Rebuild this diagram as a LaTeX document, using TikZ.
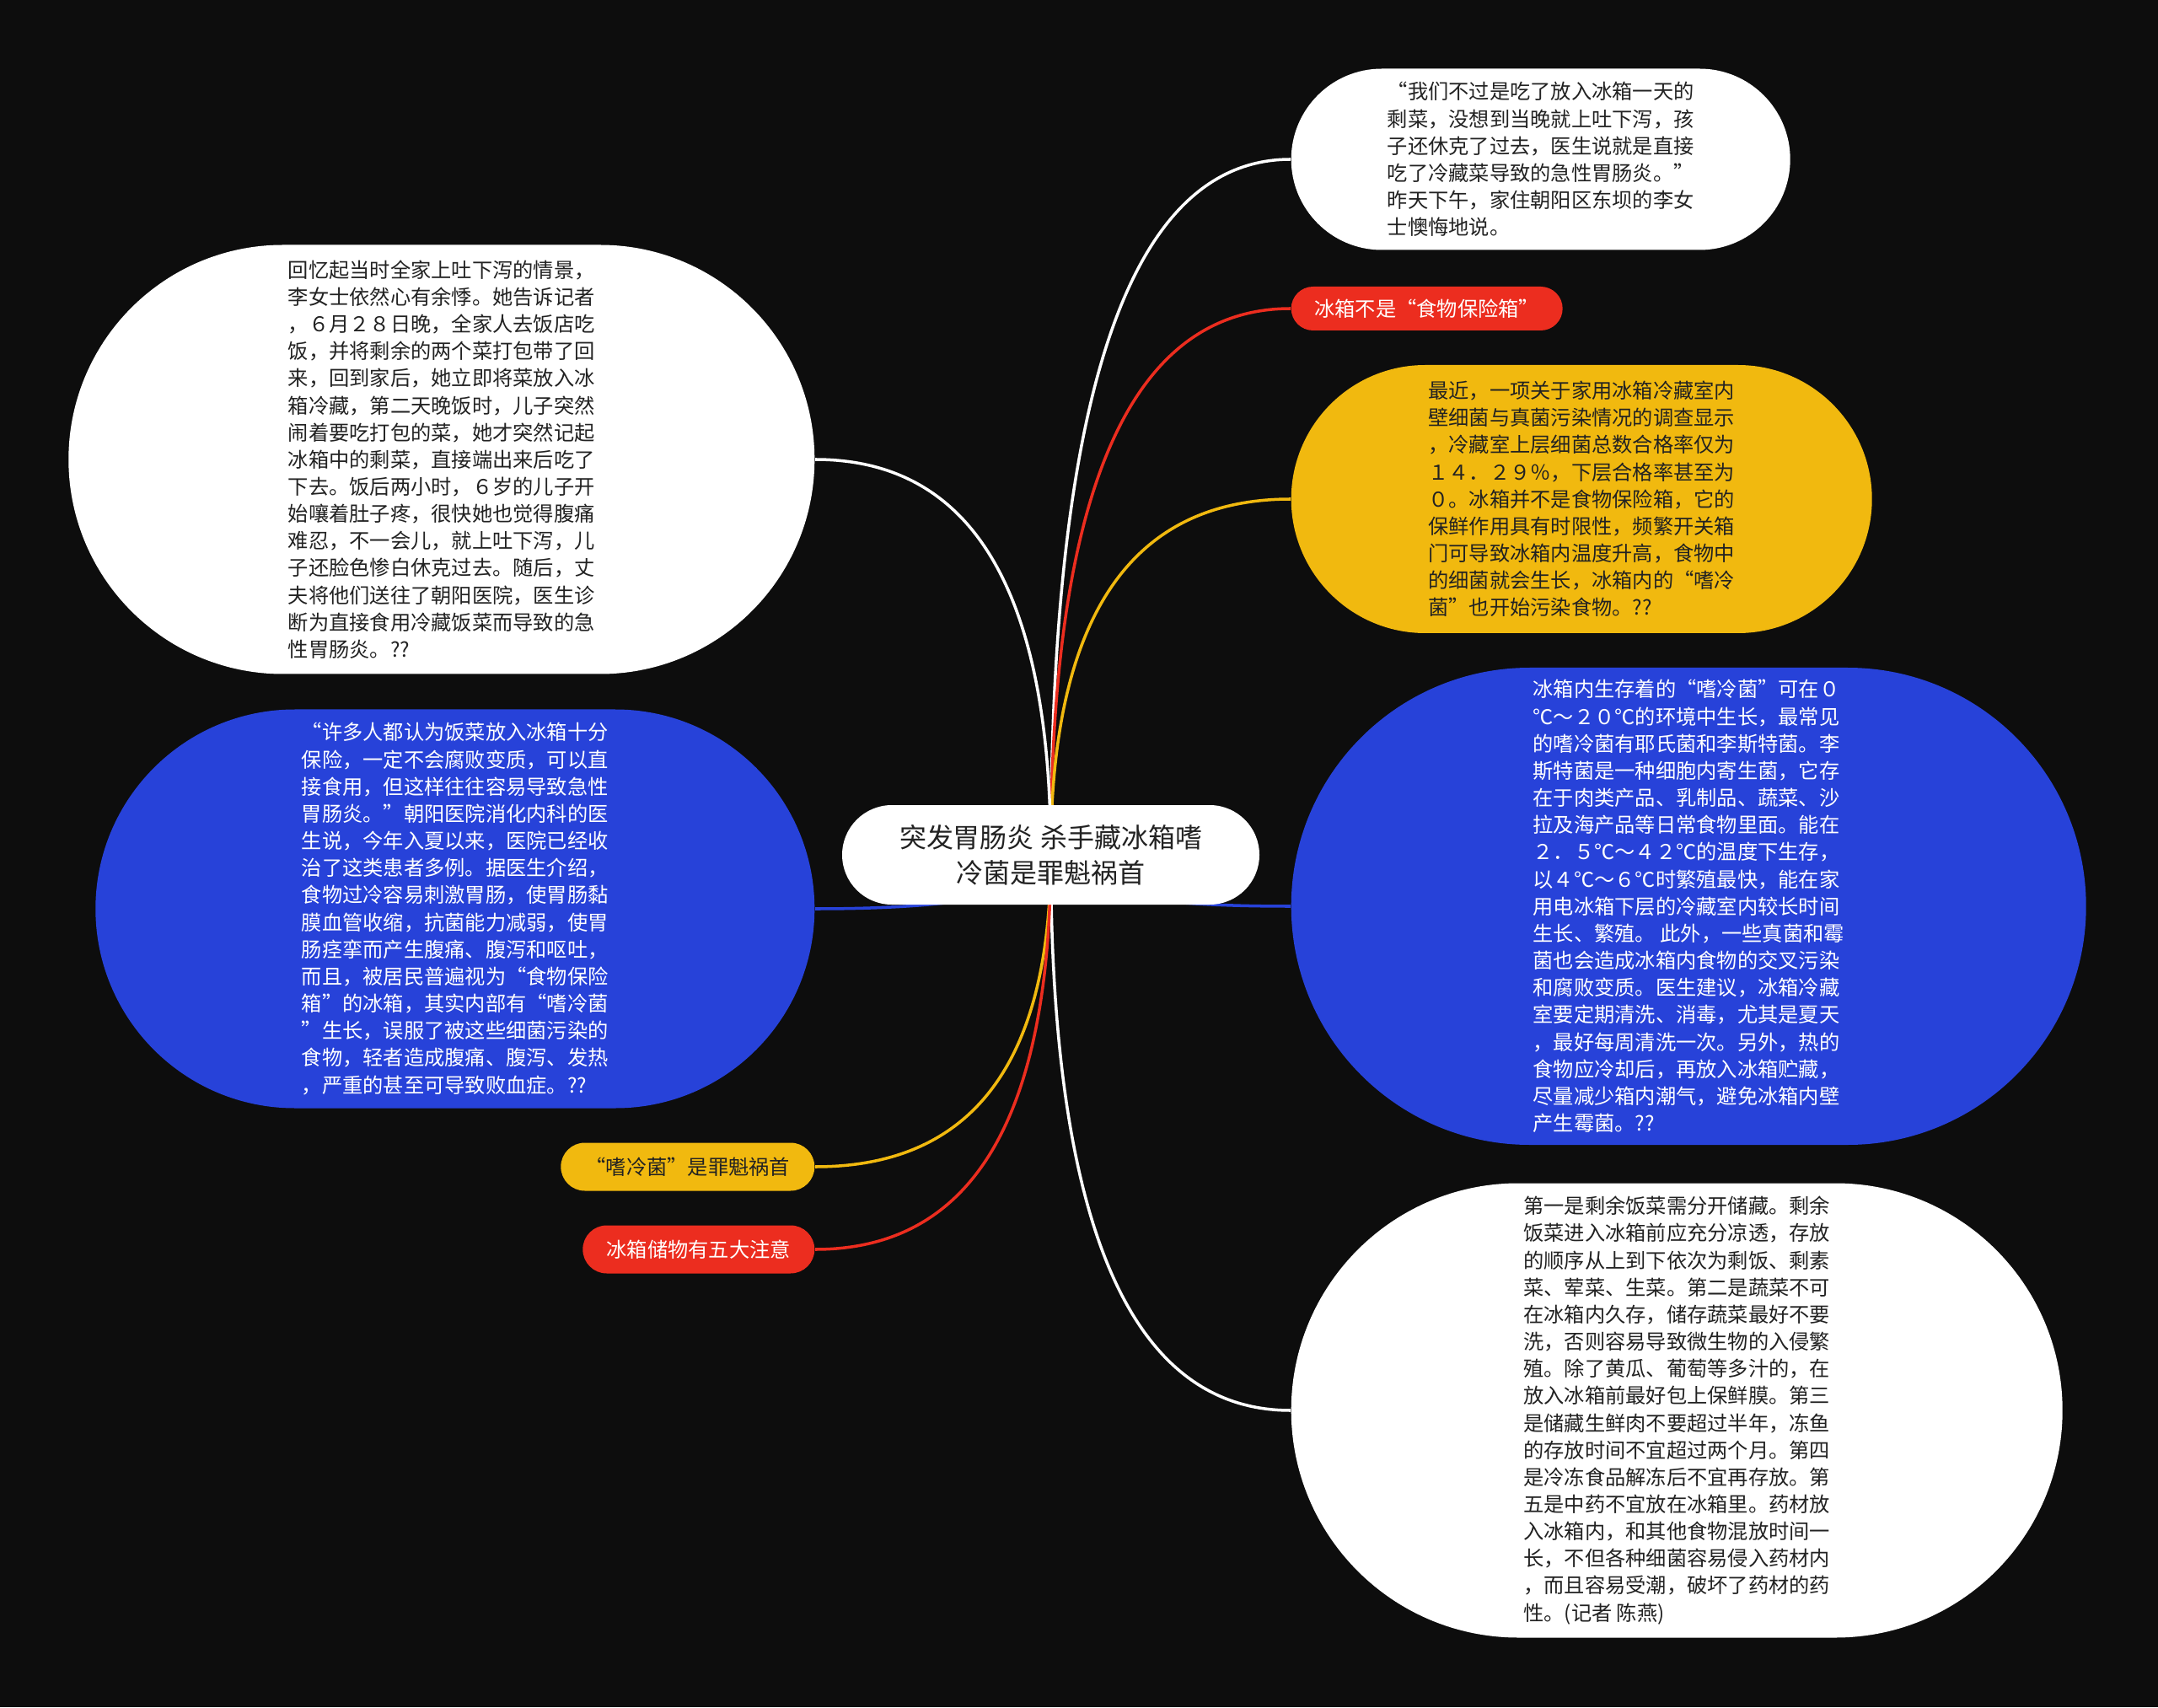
\documentclass[tikz,border=0pt]{standalone}
\usepackage{fontspec}
\setmainfont{Noto Sans CJK SC}
\usetikzlibrary{shapes.misc, calc, backgrounds}

\definecolor{bgblack}{HTML}{0D0D0D}
\definecolor{mapblue}{HTML}{2742D9}
\definecolor{mapyellow}{HTML}{F1B90F}
\definecolor{mapred}{HTML}{EC2D1F}
\definecolor{inkdark}{HTML}{222222}

\begin{document}
\begin{tikzpicture}[
    pill/.style={rounded rectangle, inner sep=0pt, align=left, font=\fontsize{6.9pt}{9.15pt}\selectfont},
    whitepill/.style={pill, fill=white, text=inkdark},
    bluepill/.style={pill, fill=mapblue, text=white},
    yellowpill/.style={pill, fill=mapyellow, text=inkdark},
    redpill/.style={pill, fill=mapred, text=white},
    rootbox/.style={rounded rectangle, fill=white, text=inkdark, align=center, inner sep=0pt, minimum width=4.95cm, minimum height=1.18cm, font=\fontsize{9.1pt}{12pt}\selectfont},
    branch/.style={line width=1pt, to path={.. controls ($(\tikztostart)!0.667!(\tikztostart |- \tikztotarget)$) and ($(\tikztotarget)!0.667!(\tikztostart |- \tikztotarget)$) .. (\tikztotarget)}}
]

% Background
\begin{scope}[on background layer]
\fill[bgblack] (0,0) rectangle (25.6,20.25);
\end{scope}

% Root
\node[rootbox] (root) at (12.465, 10.11) {突发胃肠炎 杀手藏冰箱嗜\\冷菌是罪魁祸首};

% Right branches
\node[whitepill, minimum width=5.92cm, minimum height=2.15cm, anchor=west] (quote) at (15.31, 18.36) {“我们不过是吃了放入冰箱一天的\\
剩菜，没想到当晚就上吐下泻，孩\\
子还休克了过去，医生说就是直接\\
吃了冷藏菜导致的急性胃肠炎。”\\
昨天下午，家住朝阳区东坝的李女\\
士懊悔地说。};

\node[redpill, minimum width=3.22cm, minimum height=0.52cm, anchor=west] (warn) at (15.31, 16.59) {冰箱不是“食物保险箱”};

\node[yellowpill, minimum width=6.89cm, minimum height=3.18cm, anchor=west] (survey) at (15.31, 14.33) {最近，一项关于家用冰箱冷藏室内\\
壁细菌与真菌污染情况的调查显示\\
，冷藏室上层细菌总数合格率仅为\\
１４．２９％，下层合格率甚至为\\
０。冰箱并不是食物保险箱，它的\\
保鲜作用具有时限性，频繁开关箱\\
门可导致冰箱内温度升高，食物中\\
的细菌就会生长，冰箱内的“嗜冷\\
菌”也开始污染食物。??};

\node[bluepill, minimum width=9.43cm, minimum height=5.66cm, anchor=west] (bacteria) at (15.31, 9.50) {冰箱内生存着的“嗜冷菌”可在０\\
℃～２０℃的环境中生长，最常见\\
的嗜冷菌有耶氏菌和李斯特菌。李\\
斯特菌是一种细胞内寄生菌，它存\\
在于肉类产品、乳制品、蔬菜、沙\\
拉及海产品等日常食物里面。能在\\
２．５℃～４２℃的温度下生存，\\
以４℃～６℃时繁殖最快，能在家\\
用电冰箱下层的冷藏室内较长时间\\
生长、繁殖。 此外，一些真菌和霉\\
菌也会造成冰箱内食物的交叉污染\\
和腐败变质。医生建议，冰箱冷藏\\
室要定期清洗、消毒，尤其是夏天\\
，最好每周清洗一次。另外，热的\\
食物应冷却后，再放入冰箱贮藏，\\
尽量减少箱内潮气，避免冰箱内壁\\
产生霉菌。??};

\node[whitepill, minimum width=9.15cm, minimum height=5.39cm, anchor=west] (tips) at (15.31, 3.52) {第一是剩余饭菜需分开储藏。剩余\\
饭菜进入冰箱前应充分凉透，存放\\
的顺序从上到下依次为剩饭、剩素\\
菜、荤菜、生菜。第二是蔬菜不可\\
在冰箱内久存，储存蔬菜最好不要\\
洗，否则容易导致微生物的入侵繁\\
殖。除了黄瓜、葡萄等多汁的，在\\
放入冰箱前最好包上保鲜膜。第三\\
是储藏生鲜肉不要超过半年，冻鱼\\
的存放时间不宜超过两个月。第四\\
是冷冻食品解冻后不宜再存放。第\\
五是中药不宜放在冰箱里。药材放\\
入冰箱内，和其他食物混放时间一\\
长，不但各种细菌容易侵入药材内\\
，而且容易受潮，破坏了药材的药\\
性。(记者 陈燕)};

% Left branches
\node[whitepill, minimum width=8.85cm, minimum height=5.09cm, anchor=east] (story) at (9.67, 14.80) {回忆起当时全家上吐下泻的情景，\\
李女士依然心有余悸。她告诉记者\\
，６月２８日晚，全家人去饭店吃\\
饭，并将剩余的两个菜打包带了回\\
来，回到家后，她立即将菜放入冰\\
箱冷藏，第二天晚饭时，儿子突然\\
闹着要吃打包的菜，她才突然记起\\
冰箱中的剩菜，直接端出来后吃了\\
下去。饭后两小时，６岁的儿子开\\
始嚷着肚子疼，很快她也觉得腹痛\\
难忍，不一会儿，就上吐下泻，儿\\
子还脸色惨白休克过去。随后，丈\\
夫将他们送往了朝阳医院，医生诊\\
断为直接食用冷藏饭菜而导致的急\\
性胃肠炎。??};

\node[bluepill, minimum width=8.53cm, minimum height=4.73cm, anchor=east] (doctor) at (9.67, 9.47) {“许多人都认为饭菜放入冰箱十分\\
保险，一定不会腐败变质，可以直\\
接食用，但这样往往容易导致急性\\
胃肠炎。”朝阳医院消化内科的医\\
生说，今年入夏以来，医院已经收\\
治了这类患者多例。据医生介绍，\\
食物过冷容易刺激胃肠，使胃肠黏\\
膜血管收缩，抗菌能力减弱，使胃\\
肠痉挛而产生腹痛、腹泻和呕吐，\\
而且，被居民普遍视为“食物保险\\
箱”的冰箱，其实内部有“嗜冷菌\\
”生长，误服了被这些细菌污染的\\
食物，轻者造成腹痛、腹泻、发热\\
，严重的甚至可导致败血症。??};

\node[yellowpill, minimum width=3.01cm, minimum height=0.57cm, anchor=east] (culprit) at (9.67, 6.41) {“嗜冷菌”是罪魁祸首};

\node[redpill, minimum width=2.75cm, minimum height=0.57cm, anchor=east] (rules) at (9.67, 5.43) {冰箱储物有五大注意};

% Connectors
\begin{scope}[on background layer]
\draw[branch, white] (root.center) to (quote.west);
\draw[branch, mapred] (root.center) to (warn.west);
\draw[branch, mapyellow] (root.center) to (survey.west);
\draw[branch, mapblue] (root.center) to (bacteria.west);
\draw[branch, white] (root.center) to (tips.west);
\draw[branch, white] (root.center) to (story.east);
\draw[branch, mapblue] (root.center) to (doctor.east);
\draw[branch, mapyellow] (root.center) to (culprit.east);
\draw[branch, mapred] (root.center) to (rules.east);
\end{scope}

\end{tikzpicture}
\end{document}
